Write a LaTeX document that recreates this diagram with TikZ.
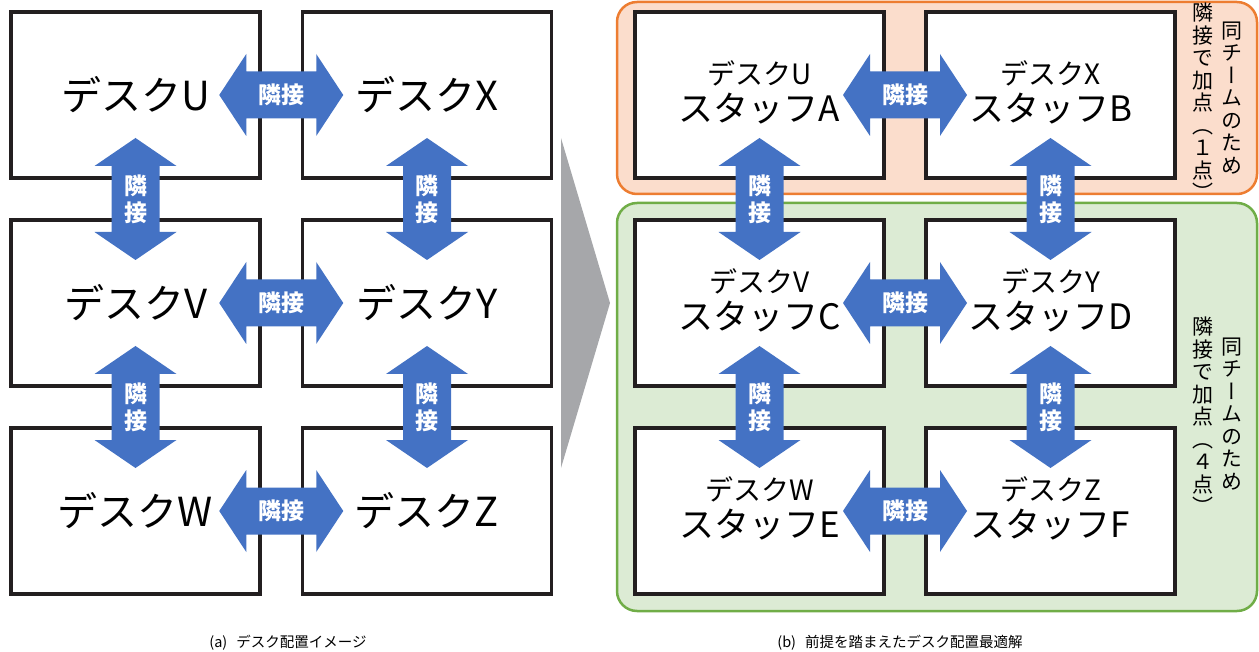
\documentclass[tikz,border=0pt]{standalone}
\usepackage{fontspec}
\usepackage{graphicx}
\newfontfamily\jp{Noto Sans CJK JP}
\newfontfamily\jpv[RawFeature=+vert]{Noto Sans CJK JP}
\usetikzlibrary{calc}
\definecolor{deskline}{HTML}{231F20}
\definecolor{arrblue}{HTML}{4472C4}
\definecolor{tri}{HTML}{A6A7AA}
\definecolor{orfill}{HTML}{FBDDCC}
\definecolor{orline}{HTML}{ED7D31}
\definecolor{grfill}{HTML}{DCEBD4}
\definecolor{grline}{HTML}{70AD47}
\tikzset{
  desk/.style={draw=deskline, line width=3.5pt, fill=white, minimum width=249pt, minimum height=166pt, inner sep=0pt, outer sep=0pt, font=\jp\fontsize{40}{42}\selectfont},
  desktwo/.style={desk, font=\jp\fontsize{35}{38}\selectfont},
  arrfill/.style={fill=arrblue},
  hlabel/.style={text=white, font=\jp\bfseries\fontsize{23}{26}\selectfont, inner sep=0pt},
  vlabel/.style={text=white, align=center, font=\jp\bfseries\fontsize{23}{27}\selectfont, inner sep=0pt},
  team/.style={rounded corners=20pt, line width=2.5pt},
  vtext/.style={align=center, inner sep=0pt, font=\jpv\fontsize{21}{22.5}\selectfont},
  caption/.style={font=\jp\fontsize{14.5}{16}\selectfont, inner sep=0pt}
}
\newcommand\harr[2]{%
  \coordinate (#1) at ($(#2)$);
  \fill[arrfill] ($(#1)+(-62,0)$) -- ++(27,-41) -- ++(0,17.5) -- ++(70,0) -- ++(0,-17.5) -- ++(27,41) -- ++(-27,41) -- ++(0,-17.5) -- ++(-70,0) -- ++(0,17.5) -- cycle;
  \node[hlabel] (#1lab) at (#1) {隣接};}
\newcommand\varr[2]{%
  \coordinate (#1) at ($(#2)$);
  \fill[arrfill] ($(#1)+(0,-61)$) -- ++(-41,28) -- ++(17,0) -- ++(0,66) -- ++(-17,0) -- ++(41,28) -- ++(41,-28) -- ++(-17,0) -- ++(0,-66) -- ++(17,0) -- cycle;
  \node[vlabel] (#1lab) at (#1) {隣\\接};}
\begin{document}
\begin{tikzpicture}[x=1pt,y=-1pt]
\useasboundingbox (0,0) rectangle (1259,652);
% team backgrounds
\draw[team, fill=orfill, draw=orline] (617,2) rectangle (1257,194);
\draw[team, fill=grfill, draw=grline] (617,203) rectangle (1257,611);
% left desks
\node[desk] (u) at (135.5,95) {デスクU};
\node[desk] (x) at (427,95) {デスクX};
\node[desk] (v) at (135.5,303) {デスクV};
\node[desk] (y) at (427,303) {デスクY};
\node[desk] (w) at (135.5,511) {デスクW};
\node[desk] (z) at (427,511) {デスクZ};
% right desks
\newcommand\twoline[2]{\begin{tabular}{@{}c@{}}{\fontsize{28}{30}\selectfont #1}\\[-3pt] #2\end{tabular}}
\node[desktwo] (ru) at (759.5,95) {\twoline{デスクU}{スタッフA}};
\node[desktwo] (rx) at (1050.5,95) {\twoline{デスクX}{スタッフB}};
\node[desktwo] (rv) at (759.5,303) {\twoline{デスクV}{スタッフC}};
\node[desktwo] (ry) at (1050.5,303) {\twoline{デスクY}{スタッフD}};
\node[desktwo] (rw) at (759.5,511) {\twoline{デスクW}{スタッフE}};
\node[desktwo] (rz) at (1050.5,511) {\twoline{デスクZ}{スタッフF}};
% left arrows
\harr{ux}{u.east)!0.5!(x.west}
\harr{vy}{v.east)!0.5!(y.west}
\harr{wz}{w.east)!0.5!(z.west}
\varr{uv}{u.south)!0.5!(v.north}
\varr{vw}{v.south)!0.5!(w.north}
\varr{xy}{x.south)!0.5!(y.north}
\varr{yz}{y.south)!0.5!(z.north}
% right arrows
\harr{rux}{ru.east)!0.5!(rx.west}
\harr{rvy}{rv.east)!0.5!(ry.west}
\harr{rwz}{rw.east)!0.5!(rz.west}
\varr{ruv}{ru.south)!0.5!(rv.north}
\varr{rvw}{rv.south)!0.5!(rw.north}
\varr{rxy}{rx.south)!0.5!(ry.north}
\varr{ryz}{ry.south)!0.5!(rz.north}
% big grey arrow
\fill[tri] (561,138) -- (610,303) -- (561,468) -- cycle;
% vertical texts
\node[vtext] (o1) at (1232,98) {同\\チ\\ー\\ム\\の\\た\\め};
\node[vtext] (o2) at (1203,102) {隣\\接\\で\\加\\点\\︵\\１\\点\\︶};
\node[vtext] (g1) at (1232,414) {同\\チ\\ー\\ム\\の\\た\\め};
\node[vtext] (g2) at (1203,416) {隣\\接\\で\\加\\点\\︵\\４\\点\\︶};
% captions
\node[caption] (ca) at (288,643) {(a)\hspace{9pt}デスク配置イメージ};
\node[caption] (cb) at (900,643) {(b)\hspace{9pt}前提を踏まえたデスク配置最適解};
\end{tikzpicture}
\end{document}
